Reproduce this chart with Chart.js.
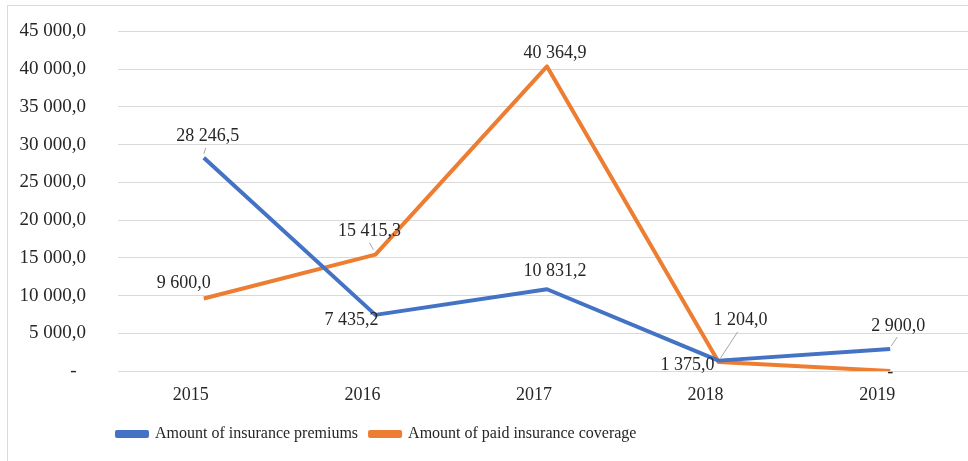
<!DOCTYPE html>
<html lang="en">
<head>
  <meta charset="UTF-8">
  <title>Insurance premiums and coverage</title>
  <script src="https://cdn.jsdelivr.net/npm/chart.js"></script>
  <style>
    html, body { margin: 0; padding: 0; overflow: hidden; background: #fff; }
    #frame { position: absolute; left: 7px; top: 5px; width: 1000px; height: 500px; border: 1px solid #d9d9d9; }
    #wrap { position: absolute; left: 8px; top: -12px; width: 968px; height: 464px; }
  </style>
</head>
<body>
  <div id="frame"></div>
  <div id="wrap"><canvas id="grafica" width="968" height="464"></canvas></div>

  <script>
    // data
    const years = ['2015', '2016', '2017', '2018', '2019'];
    const premiums = [28246.5, 7435.2, 10831.2, 1375.0, 2900.0];
    const coverage = [9600.0, 15415.3, 40364.9, 1204.0, 0];
    const seriesNames = ['Amount of insurance premiums', 'Amount of paid insurance coverage'];

    // where each value label sits relative to its point (px), and optional leader line
    const premiumLabelPos = [[4, -22], [-24, 5], [8, -18], [-31, 5], [8, -23]];
    const coverageLabelPos = [[-20, -15], [-6, -23], [8, -13], [22, -42], [0, 1]];
    const premiumLeaders = [[0, -4, 2, -10], null, null, null, [1, -3, 7, -12]];
    const coverageLeaders = [null, [-2, -5, -6, -12], null, [2, -4, 19, -30], null];

    const serif = "'Liberation Serif', 'Times New Roman', serif";
    const textColor = '#262626';

    function fmt(v) {
      if (v === 0) return '-';
      const parts = v.toFixed(1).split('.');
      return parts[0].replace(/\B(?=(\d{3})+(?!\d))/g, ' ') + ',' + parts[1];
    }

    const valueLabels = {
      id: 'valueLabels',
      afterDatasetsDraw(chart) {
        const ctx = chart.ctx;
        const pos = [premiumLabelPos, coverageLabelPos];
        const leaders = [premiumLeaders, coverageLeaders];
        ctx.save();
        chart.data.datasets.forEach((ds, i) => {
          chart.getDatasetMeta(i).data.forEach((pt, j) => {
            const ln = leaders[i][j];
            if (ln) {
              ctx.strokeStyle = '#a6a6a6';
              ctx.lineWidth = 1;
              ctx.beginPath();
              ctx.moveTo(pt.x + ln[0], pt.y + ln[1]);
              ctx.lineTo(pt.x + ln[2], pt.y + ln[3]);
              ctx.stroke();
            }
            ctx.fillStyle = textColor;
            ctx.font = '18px ' + serif;
            ctx.textAlign = 'center';
            ctx.textBaseline = 'middle';
            ctx.fillText(fmt(ds.data[j]), pt.x + pos[i][j][0], pt.y + pos[i][j][1]);
          });
        });
        ctx.restore();
      }
    };

    // legend sits left of centre in the original
    const legendShift = {
      id: 'legendShift',
      afterLayout(chart) {
        chart.legend.left = 97;
      }
    };

    new Chart(document.getElementById('grafica'), {
      type: 'line',
      data: {
        labels: years,
        datasets: [
          {
            label: seriesNames[0],
            data: premiums,
            borderColor: '#4472C4',
            backgroundColor: '#4472C4',
            borderWidth: 4,
            pointRadius: 0,
            borderJoinStyle: 'round',
            tension: 0
          },
          {
            label: seriesNames[1],
            data: coverage,
            borderColor: '#ED7D31',
            backgroundColor: '#ED7D31',
            borderWidth: 4,
            pointRadius: 0,
            borderJoinStyle: 'round',
            tension: 0
          }
        ]
      },
      options: {
        responsive: false,
        animation: false,
        layout: { padding: { top: 6, left: 0, right: 0, bottom: 0 } },
        plugins: {
          tooltip: { enabled: false },
          legend: {
            position: 'bottom',
            align: 'start',
            labels: {
              boxWidth: 30,
              boxHeight: 4,
              padding: 12,
              color: textColor,
              font: { family: serif, size: 16 }
            }
          }
        },
        scales: {
          x: {
            offset: true,
            grid: { display: false },
            border: { display: false },
            afterFit(scale) { scale.height = 43; },
            ticks: {
              labelOffset: -13,
              padding: 5,
              color: textColor,
              font: { family: serif, size: 18 }
            }
          },
          y: {
            min: 0,
            max: 45000,
            grid: { color: '#d9d9d9', lineWidth: 1, drawTicks: false },
            border: { display: false },
            afterFit(scale) { scale.width = 110; },
            ticks: {
              stepSize: 5000,
              padding: 32,
              color: textColor,
              font: { family: serif, size: 19 },
              callback: v => (v === 0 ? '-  ' : fmt(v))
            }
          }
        }
      },
      plugins: [valueLabels, legendShift]
    });
  </script>
</body>
</html>
